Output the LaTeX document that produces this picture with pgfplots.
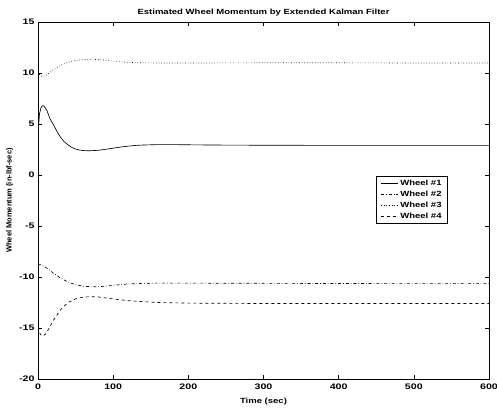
\documentclass[border=0pt]{standalone}
\usepackage{fontspec}
\setmainfont{Liberation Sans}
% wide face for horizontal text, plain face for the rotated y label
\newfontfamily\widefont[FakeStretch=1.27]{Liberation Sans}
\newfontfamily\tickfont[FakeStretch=1.33]{Liberation Sans}
\usepackage{pgfplots}
\pgfplotsset{compat=1.18}
\begin{document}
\begin{tikzpicture}
\begin{axis}[
  scale only axis,
  width=451pt, height=357pt,
  xmin=0, xmax=600, ymin=-20, ymax=15,
  xtick={0,100,...,600}, ytick={-20,-15,...,15},
  tick align=inside,
  major tick length=4pt,
  axis line style={line width=0.8pt},
  tick style={line width=0.6pt, black},
  /pgf/number format/assume math mode=true,
  ticklabel style={font=\tickfont\fontsize{8}{9}\selectfont\bfseries},
  xticklabel style={yshift=-1pt},
  title={Estimated Wheel Momentum by Extended Kalman Filter},
  title style={font=\widefont\fontsize{7.5}{9}\selectfont\bfseries, yshift=-4pt},
  xlabel={Time (sec)},
  ylabel={Wheel Momentum (in-lbf-sec)},
  xlabel style={font=\widefont\fontsize{7.5}{9}\selectfont\bfseries, yshift=-2pt},
  ylabel style={font=\fontsize{7.5}{9}\selectfont\bfseries, yshift=-1pt},
  legend style={at={(rel axis cs:0.909,0.569)}, anchor=north east,
    font=\widefont\fontsize{7.5}{9}\selectfont\bfseries, draw=black, line width=0.8pt,
    inner xsep=4pt, inner ysep=1.5pt, row sep=0pt},
  legend cell align=left,
  legend image code/.code={\draw[#1, line width=0.6pt] (0cm,0cm) -- (0.6cm,0cm);},
  every axis plot/.append style={line width=0.65pt, black},
]
% Wheel #1
\addplot[solid] coordinates {
(0,4.0)(2,6.0)(4,6.6)(6,6.8)(8,6.75)(12,6.3)(16,5.5)(20,5.0)(25,4.3)(30,3.7)
(35,3.25)(40,2.95)(45,2.7)(50,2.55)(55,2.45)(60,2.4)(65,2.38)(70,2.38)(80,2.42)
(90,2.52)(100,2.63)(110,2.74)(120,2.83)(130,2.9)(140,2.94)(150,2.96)(160,2.98)
(180,2.98)(200,2.96)(250,2.93)(300,2.92)(400,2.9)(500,2.9)(600,2.9)};
\addlegendentry{Wheel \#1}
% Wheel #2
\addplot[dash dot] coordinates {
(0,-8.8)(4,-8.8)(8,-8.95)(15,-9.3)(20,-9.6)(30,-10.1)(40,-10.5)(50,-10.75)
(60,-10.9)(70,-10.95)(80,-10.95)(90,-10.9)(100,-10.82)(110,-10.74)(120,-10.68)
(140,-10.62)(160,-10.6)(200,-10.6)(300,-10.62)(400,-10.64)(500,-10.65)(600,-10.65)};
\addlegendentry{Wheel \#2}
% Wheel #3
\addplot[dotted] coordinates {
(0,10.1)(3,9.75)(6,9.65)(10,9.75)(15,10.0)(20,10.3)(30,10.75)(40,11.05)(50,11.22)
(60,11.32)(70,11.35)(80,11.32)(90,11.25)(100,11.17)(110,11.1)(120,11.05)(140,11.0)
(160,10.98)(200,10.98)(300,11.0)(400,11.0)(500,10.98)(600,10.98)};
\addlegendentry{Wheel \#3}
% Wheel #4
\addplot[dashed] coordinates {
(0,-14.9)(3,-15.6)(6,-15.8)(10,-15.6)(15,-15.0)(20,-14.3)(30,-13.2)(40,-12.5)
(50,-12.15)(60,-11.98)(70,-11.93)(80,-11.96)(90,-12.05)(100,-12.15)(120,-12.32)
(140,-12.42)(160,-12.5)(200,-12.56)(300,-12.6)(400,-12.6)(500,-12.6)(600,-12.6)};
\addlegendentry{Wheel \#4}
\end{axis}
\pgfresetboundingbox
\path (-38pt,-30pt) rectangle (459pt,379pt);
\end{tikzpicture}
\end{document}
